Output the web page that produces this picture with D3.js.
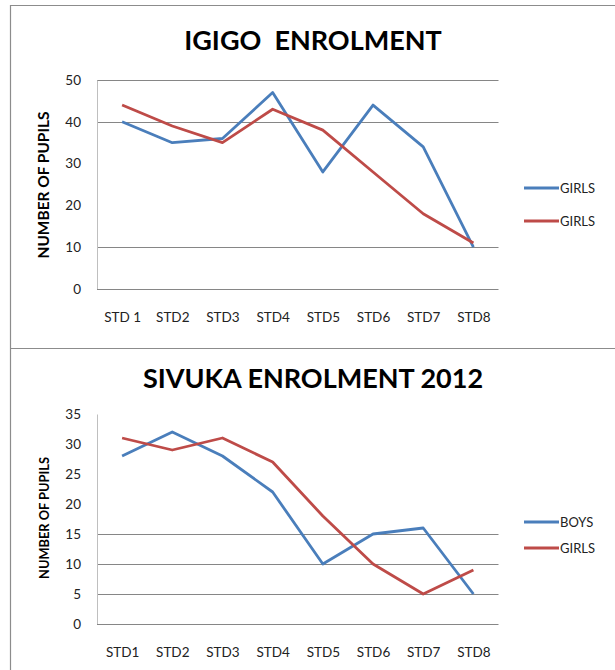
<!DOCTYPE html>
<html>
<head>
<meta charset="utf-8">
<script src="https://cdn.jsdelivr.net/npm/d3@7"></script>
<style>
  body { margin: 0; background: #fff; }
  svg { display: block; font-family: Lato, "Open Sans", sans-serif; }
</style>
</head>
<body>
<svg id="chart" width="615" height="670"></svg>
<script>
// data
const igigoCategories = ["STD 1", "STD2", "STD3", "STD4", "STD5", "STD6", "STD7", "STD8"];
const igigoBlue = [40, 35, 36, 47, 28, 44, 34, 10];
const igigoRed = [44, 39, 35, 43, 38, 28, 18, 11];
const igigoTicks = [0, 10, 20, 30, 40, 50];
const igigoGrid = [10, 40, 50];
const igigoLegend = ["GIRLS", "GIRLS"];

const sivukaCategories = ["STD1", "STD2", "STD3", "STD4", "STD5", "STD6", "STD7", "STD8"];
const sivukaBoys = [28, 32, 28, 22, 10, 15, 16, 5];
const sivukaGirls = [31, 29, 31, 27, 18, 10, 5, 9];
const sivukaTicks = [0, 5, 10, 15, 20, 25, 30, 35];
const sivukaGrid = [5, 10, 15];
const sivukaLegend = ["BOYS", "GIRLS"];

const BLUE = "#4a7ebb";
const RED = "#be4b48";

const svg = d3.select("#chart");

// frames
svg.append("path")
  .attr("d", "M10.5,670 V5.5 H615 M10.5,348.5 H615")
  .attr("fill", "none")
  .attr("stroke", "#8c8c8c")
  .attr("stroke-width", 1.2);

function drawChart(cfg) {
  const g = svg.append("g");
  const x = d3.scalePoint().domain(cfg.categories).range([97, 498.5]).padding(0.5);
  const y = d3.scaleLinear().domain([0, d3.max(cfg.ticks)]).range([cfg.bottom, cfg.top]);

  g.append("text")
    .attr("x", 313).attr("y", cfg.titleY)
    .attr("text-anchor", "middle")
    .attr("font-size", 27).attr("font-weight", "bold")
    .attr("fill", "#000")
    .style("white-space", "pre")
    .text(cfg.title);

  // gridlines
  g.selectAll(".grid").data(cfg.grid).join("line")
    .attr("x1", 97).attr("x2", 498.5)
    .attr("y1", d => Math.round(y(d)) + 0.5).attr("y2", d => Math.round(y(d)) + 0.5)
    .attr("stroke", "#868686").attr("stroke-width", 1);

  // axes
  const yAxis = g.append("g").attr("transform", "translate(97,0)")
    .call(d3.axisLeft(y).tickValues(cfg.ticks).tickSize(0).tickPadding(16));
  yAxis.select(".domain").attr("stroke", "#bfbfbf");
  yAxis.selectAll("text").attr("font-size", 13.5).attr("fill", "#222").attr("font-family", "Lato");

  const xAxis = g.append("g").attr("transform", `translate(0,${cfg.bottom})`)
    .call(d3.axisBottom(x).tickSize(0).tickPadding(23));
  xAxis.select(".domain").attr("stroke", "#868686").attr("d", `M97,0.5H498.5`);
  xAxis.selectAll("text").attr("font-size", 13.5).attr("fill", "#222").attr("font-family", "Lato");

  g.append("text")
    .attr("transform", `translate(48.5,${cfg.labelY}) rotate(-90)`)
    .attr("text-anchor", "middle")
    .attr("font-size", cfg.labelSize).attr("font-weight", "bold")
    .attr("textLength", cfg.labelLen).attr("lengthAdjust", "spacingAndGlyphs")
    .attr("fill", "#000")
    .text("NUMBER OF PUPILS");

  const line = d3.line().x((d, i) => x(cfg.categories[i])).y(d => y(d));
  [[cfg.series[0], BLUE], [cfg.series[1], RED]].forEach(([vals, col]) => {
    g.append("path")
      .datum(vals)
      .attr("d", line)
      .attr("fill", "none")
      .attr("stroke", col)
      .attr("stroke-width", 2.8)
      .attr("stroke-linejoin", "round");
  });

  // legend
  cfg.legend.forEach((name, i) => {
    const ly = cfg.legendY[i];
    g.append("line")
      .attr("x1", 524).attr("x2", 559).attr("y1", ly).attr("y2", ly)
      .attr("stroke", i === 0 ? BLUE : RED).attr("stroke-width", 3);
    g.append("text")
      .attr("x", 560).attr("y", ly + 4.5)
      .attr("font-size", 13).attr("fill", "#222")
      .text(name);
  });
}

drawChart({
  title: "IGIGO  ENROLMENT",
  titleY: 50,
  categories: igigoCategories,
  series: [igigoBlue, igigoRed],
  ticks: igigoTicks,
  grid: igigoGrid,
  legend: igigoLegend,
  legendY: [188, 221],
  top: 80,
  bottom: 289,
  labelY: 185,
  labelSize: 15,
  labelLen: 147
});

drawChart({
  title: "SIVUKA ENROLMENT 2012",
  titleY: 388,
  categories: sivukaCategories,
  series: [sivukaBoys, sivukaGirls],
  ticks: sivukaTicks,
  grid: sivukaGrid,
  legend: sivukaLegend,
  legendY: [522, 548],
  top: 414,
  bottom: 624,
  labelY: 518,
  labelSize: 13.5,
  labelLen: 122
});
</script>
</body>
</html>
